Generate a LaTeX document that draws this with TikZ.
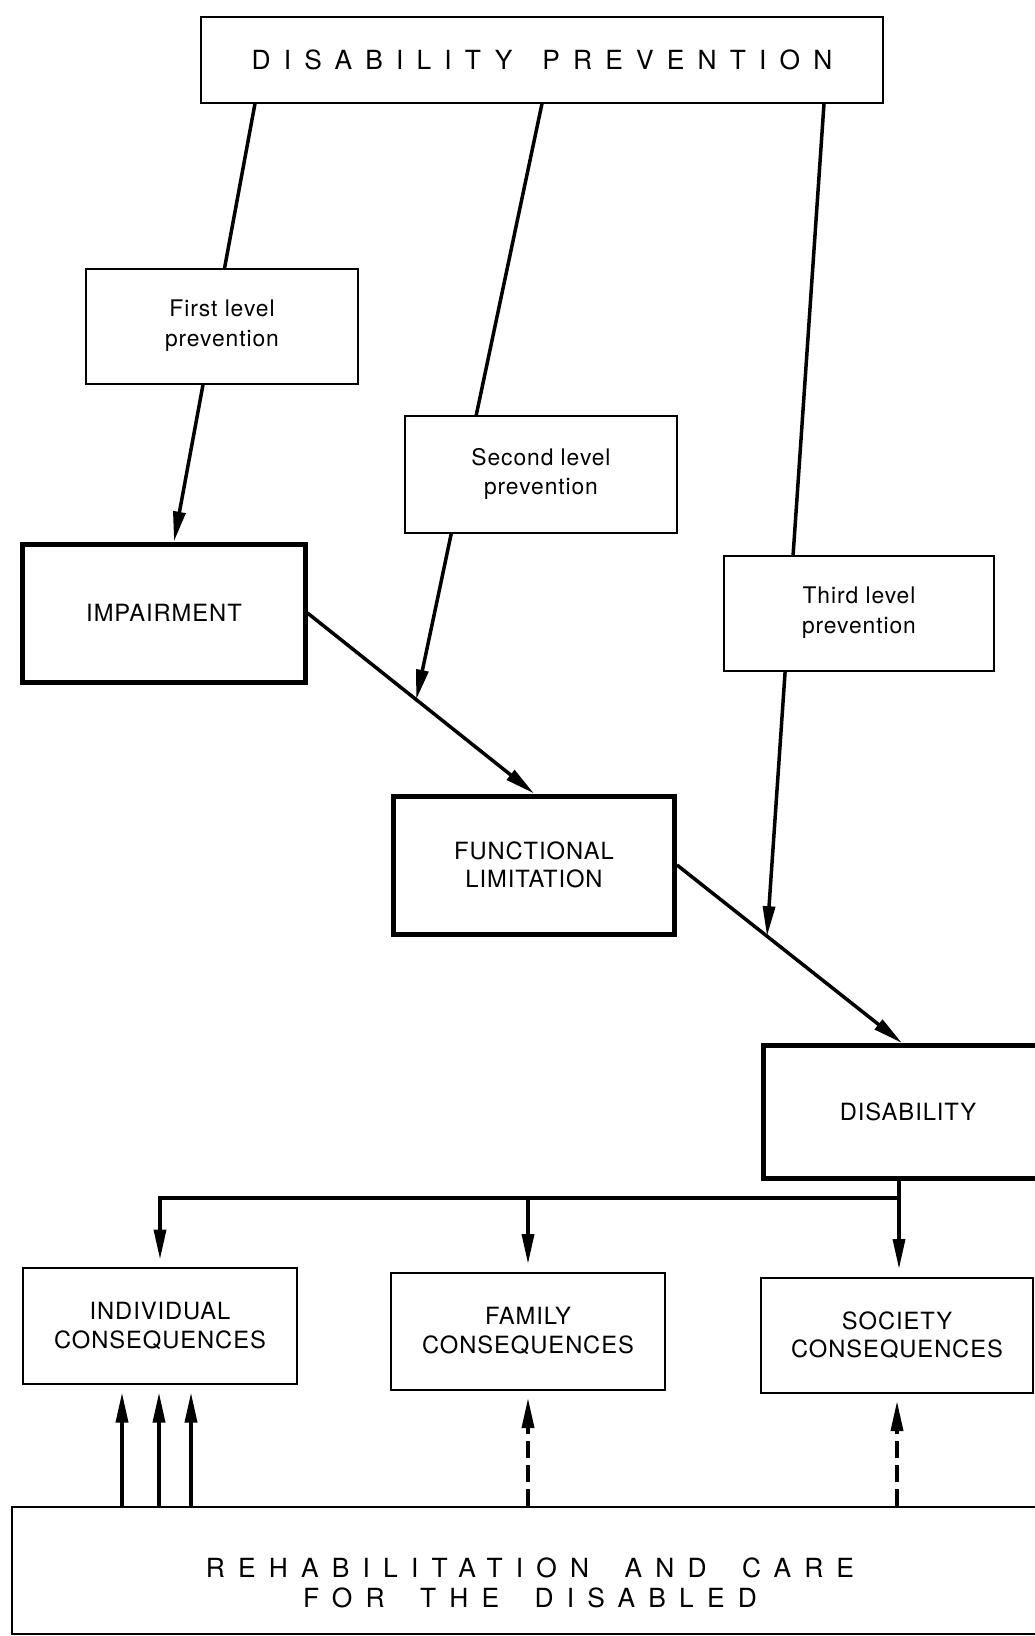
\documentclass[tikz,border=0pt]{standalone}
\usepackage{fontspec}
\setmainfont{TeX Gyre Heros}
\newfontfamily\widefont[LetterSpace=50]{TeX Gyre Heros}
\newfontfamily\boxfont[LetterSpace=4]{TeX Gyre Heros}
\usetikzlibrary{arrows.meta, positioning, calc}

\begin{document}
\begin{tikzpicture}[
  x=0.2mm, y=-0.2mm,
  thin/.style={draw, line width=0.4mm, fill=white, inner sep=0pt, align=center,
    font=\boxfont\fontsize{13}{17}\selectfont},
  thick/.style={draw, line width=1mm, fill=white, inner sep=0pt, align=center,
    font=\boxfont\fontsize{13.5}{16}\selectfont},
  arr/.style={line width=0.7mm, -{Triangle[length=6mm, width=2.4mm]}},
  dasharr/.style={arr, dash pattern=on 3.4mm off 1.4mm},
  wide/.style={font=\widefont\fontsize{15}{17}\selectfont, align=center}]

  \useasboundingbox (0,0) rectangle (1035,1636);
  \clip (0,0) rectangle (1035,1636);

  % boxes
  \node[thin, minimum width=136.4mm, minimum height=17mm] (prev) at (542,60)
    {\widefont\fontsize{15}{17}\selectfont DISABILITY\hspace{6mm}PREVENTION};
  \node[thick, minimum width=56.4mm, minimum height=27.6mm] (imp) at (164,613) {IMPAIRMENT};
  \node[thick, minimum width=56.2mm, minimum height=27.6mm] (func) at (534,865) {FUNCTIONAL\\LIMITATION};
  \node[thick, minimum width=58mm, minimum height=26.6mm] (dis) at (908,1112) {DISABILITY};
  \node[thin, minimum width=54.6mm, minimum height=23.2mm, font=\boxfont\fontsize{13.5}{16}\selectfont]
    (ind) at (160,1326) {INDIVIDUAL\\CONSEQUENCES};
  \node[thin, minimum width=54.8mm, minimum height=23.4mm, font=\boxfont\fontsize{13.5}{16}\selectfont]
    (fam) at (528,1331) {FAMILY\\CONSEQUENCES};
  \node[thin, minimum width=54.4mm, minimum height=23mm, font=\boxfont\fontsize{13.5}{16}\selectfont]
    (soc) at (897,1335) {SOCIETY\\CONSEQUENCES};
  \node[thin, minimum width=209.6mm, minimum height=25.4mm] (rehab) at (536,1570) {};
  \node[wide] (rehabtxt) at (530,1583)
    {REHABILITATION\hspace{3mm} AND\hspace{3mm} CARE\\FOR\hspace{3mm} THE\hspace{3mm} DISABLED};

  % prevention lines
  \draw[arr] ($(prev.south west)+(55,0)$) -- ($(imp.north)+(10,0)$);
  \draw[arr] (imp.east) -- coordinate[pos=0.48] (m2) (func.north);
  \draw[arr] (func.east) -- coordinate[pos=0.4] (m3) ($(dis.north)+(-6,0)$);
  \draw[arr] (prev.south) -- (m2);
  \draw[arr] ($(prev.south east)+(-60,0)$) -- (m3);

  \node[thin, minimum width=54.4mm, minimum height=23mm] (first) at (222,326) {First level\\prevention};
  \node[thin, minimum width=54.4mm, minimum height=23.4mm] (second) at (541,474) {Second level\\prevention};
  \node[thin, minimum width=54mm, minimum height=23mm] (third) at (859,613) {Third level\\prevention};

  % consequences
  \coordinate (jn) at (899,1198);
  \draw[arr, shorten >=1.5mm] (dis.south -| jn) -- (jn |- soc.north);
  \draw[arr, shorten >=1.5mm] (jn) -| (ind.north);
  \draw[arr, shorten >=1.5mm] (jn -| fam.north) -- (fam.north);

  % rehabilitation
  \foreach \x in {122,159,191}
    \draw[arr, shorten >=1.5mm] (\x,0 |- rehab.north) -- (\x,0 |- ind.south);
  \draw[dasharr, shorten >=1.5mm] (rehab.north -| fam.south) -- (fam.south);
  \draw[dasharr, shorten >=1.5mm] (rehab.north -| soc.south) -- (soc.south);
\end{tikzpicture}
\end{document}
